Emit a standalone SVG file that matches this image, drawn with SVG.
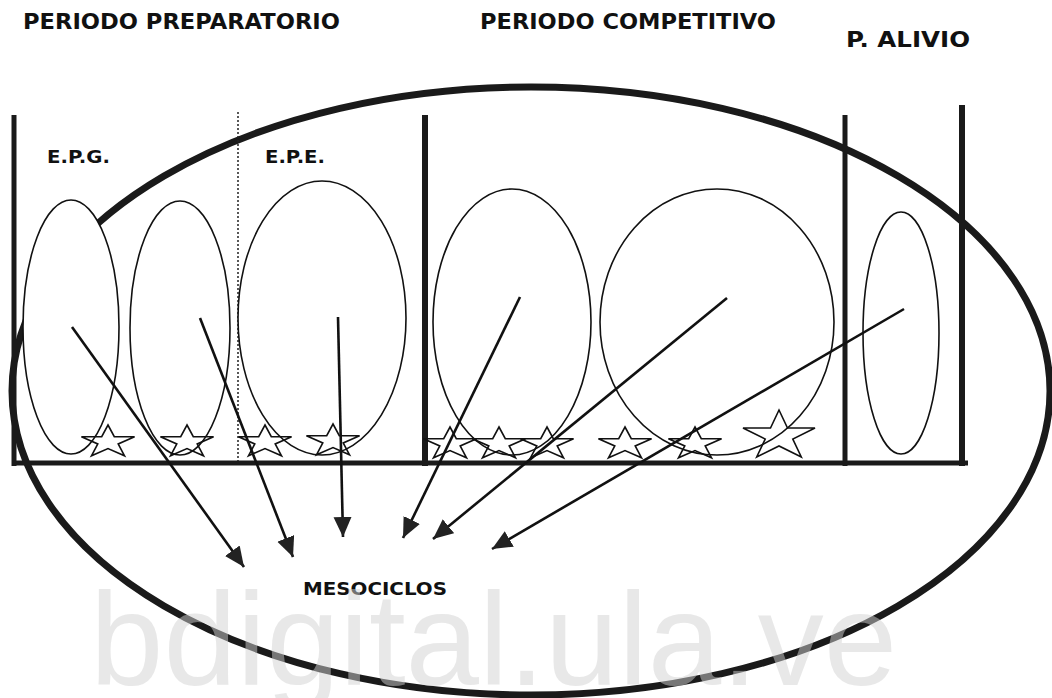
<svg xmlns="http://www.w3.org/2000/svg" width="1052" height="698" viewBox="0 0 1052 698">
<style>
.title{font-family:"DejaVu Sans","Liberation Sans",Arial,sans-serif;font-weight:bold;font-size:21px;fill:#111}
.lbl{font-family:"DejaVu Sans","Liberation Sans",Arial,sans-serif;font-weight:bold;font-size:17px;fill:#111}
.meso{stroke:#111;stroke-width:1.6;fill:#fff}
.bar{stroke:#1a1a1a;stroke-linecap:butt}
.star{fill:none;stroke:#111;stroke-width:1.6;stroke-linejoin:miter}
.arrow{stroke:#111;stroke-width:2.6;fill:none}
.wm{font-family:"Liberation Sans",Arial,sans-serif;font-size:132px;fill:#d2d2d2;fill-opacity:0.5}
</style>
<defs>
<marker id="ah" markerUnits="userSpaceOnUse" markerWidth="22" markerHeight="20" refX="20" refY="9" orient="auto">
<path d="M0,0 L20,9 L0,18 Z" fill="#222"/>
</marker>
<path id="star" d="M0,-17 L6.3,-5.3 L26.6,-5.3 L10.2,2 L16.5,13.8 L0,6.5 L-16.5,13.8 L-10.2,2 L-26.6,-5.3 L-6.3,-5.3 Z"/>
<path id="bigstar" d="M0,-26 L8.5,-8 L36,-8 L13.8,3 L22.3,21 L0,10 L-22.3,21 L-13.8,3 L-36,-8 L-8.5,-8 Z"/>
</defs>

<g id="titles">
<text class="title" x="23" y="29" textLength="317" lengthAdjust="spacingAndGlyphs">PERIODO PREPARATORIO</text>
<text class="title" x="480" y="29" textLength="296" lengthAdjust="spacingAndGlyphs">PERIODO COMPETITIVO</text>
<text class="title" x="846" y="47" textLength="124" lengthAdjust="spacingAndGlyphs">P. ALIVIO</text>
</g>

<g id="big-ellipse">
<ellipse cx="531" cy="391" rx="519" ry="304" fill="none" stroke="#1a1a1a" stroke-width="7"/>
</g>

<g id="frame">
<line class="bar" x1="14" y1="115" x2="14" y2="466" stroke-width="5"/>
<line x1="238" y1="112" x2="238" y2="461" stroke="#222" stroke-width="1.5" stroke-dasharray="2,2"/>
<line class="bar" x1="425" y1="115" x2="425" y2="466" stroke-width="6"/>
<line class="bar" x1="845" y1="115" x2="845" y2="466" stroke-width="5"/>
<line class="bar" x1="962" y1="105" x2="962" y2="466" stroke-width="6"/>
<line class="bar" x1="12" y1="463" x2="968" y2="463" stroke-width="5"/>
</g>

<g id="mesociclo-1"><ellipse class="meso" cx="71" cy="327" rx="48" ry="127"/></g>
<g id="mesociclo-2"><ellipse class="meso" cx="180" cy="328" rx="50" ry="127"/></g>
<g id="mesociclo-3"><ellipse class="meso" cx="322" cy="318" rx="84" ry="137"/></g>
<g id="mesociclo-4"><ellipse class="meso" cx="512" cy="322" rx="79" ry="133"/></g>
<g id="mesociclo-5"><ellipse class="meso" cx="717" cy="322" rx="117" ry="133"/></g>
<g id="mesociclo-6"><ellipse class="meso" cx="901" cy="333" rx="38" ry="121"/></g>

<g id="labels">
<text class="lbl" x="47" y="163" textLength="63" lengthAdjust="spacingAndGlyphs">E.P.G.</text>
<text class="lbl" x="265" y="163" textLength="60" lengthAdjust="spacingAndGlyphs">E.P.E.</text>
<text class="lbl" x="303" y="595" textLength="144" lengthAdjust="spacingAndGlyphs">MESOCICLOS</text>
</g>

<g id="stars">
<use href="#star" class="star" x="108" y="442"/>
<use href="#star" class="star" x="187" y="442"/>
<use href="#star" class="star" x="265" y="442"/>
<use href="#star" class="star" x="333" y="441"/>
<use href="#star" class="star" x="450" y="444"/>
<use href="#star" class="star" x="499" y="444"/>
<use href="#star" class="star" x="547" y="444"/>
<use href="#star" class="star" x="625" y="444"/>
<use href="#star" class="star" x="695" y="444"/>
<use href="#bigstar" class="star" x="779" y="436"/>
</g>

<g id="connectors">
<line class="arrow" x1="72" y1="327" x2="244" y2="567" marker-end="url(#ah)"/>
<line class="arrow" x1="200" y1="318" x2="293" y2="557" marker-end="url(#ah)"/>
<line class="arrow" x1="338" y1="317" x2="343" y2="537" marker-end="url(#ah)"/>
<line class="arrow" x1="520" y1="297" x2="403" y2="538" marker-end="url(#ah)"/>
<line class="arrow" x1="727" y1="298" x2="433" y2="539" marker-end="url(#ah)"/>
<line class="arrow" x1="904" y1="309" x2="492" y2="549" marker-end="url(#ah)"/>
</g>

<g id="watermark">
<text class="wm" x="90" y="685">bdigital.ula.ve</text>
</g>
</svg>
